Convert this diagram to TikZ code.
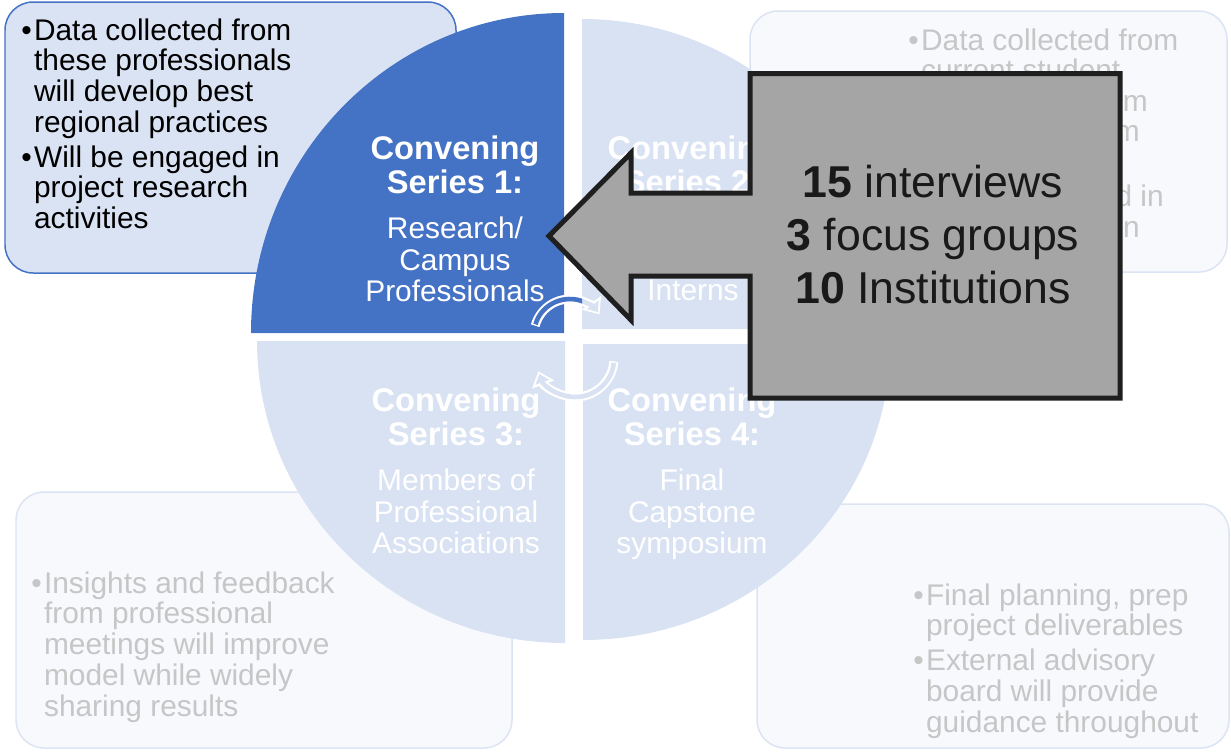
\documentclass[tikz,border=0pt]{standalone}
\usepackage{fontspec}
\setmainfont{Liberation Sans}
\usetikzlibrary{arrows.meta}

\definecolor{qdark}{HTML}{4472C4}
\definecolor{qlight}{HTML}{D9E2F3}
\definecolor{boxblue}{HTML}{DAE3F3}
\definecolor{fadefill}{HTML}{F7F9FD}
\definecolor{fadeline}{HTML}{DCE4F3}
\definecolor{fadegray}{HTML}{C6C6C6}
\definecolor{callgray}{HTML}{A5A5A5}
\definecolor{callline}{HTML}{1F1F1F}

\newcommand{\qhead}{\fontsize{18.6}{17.9}\selectfont\bfseries}

\begin{document}
\begin{tikzpicture}[x=0.02cm, y=0.02cm,
  listtext/.style={anchor=base west, inner sep=0pt, font=\fontsize{17}{17.35}\selectfont},
  fadetext/.style={listtext, text=fadegray},
  qtext/.style={anchor=base, inner sep=0pt, text=white, font=\fontsize{17}{17.9}\selectfont},
  fadebox/.style={draw=fadeline, fill=fadefill, line width=0.85pt, rounded corners=16pt},
  cyclerim/.style={white, line width=5.1pt, -{Triangle[width=13pt,length=8pt]}},
  cyclefill/.style={line width=2.6pt, shorten >=1.6pt, shorten <=0.8pt, -{Triangle[width=8pt,length=5pt]}}]
\useasboundingbox (0,0) rectangle (1231,-751);

% side boxes
\draw[draw=qdark, fill=boxblue, line width=0.85pt, rounded corners=16pt] (5,-2) rectangle (456,-273);
\draw[fadebox] (750,-11) rectangle (1227,-272);
\draw[fadebox] (16,-492) rectangle (512,-748);
\draw[fadebox] (757,-504) rectangle (1229,-748);

\node[listtext] (tltext) at (21,-40) {\begin{tabular}[t]{@{}l@{\hspace{1.3pt}}l@{}}
\textbullet & Data collected from\\
 & these professionals\\
 & will develop best\\
 & regional practices\\[2.3pt]
\textbullet & Will be engaged in\\
 & project research\\
 & activities
\end{tabular}};

\node[fadetext] (trtext) at (908,-50) {\begin{tabular}[t]{@{}l@{\hspace{1.3pt}}l@{}}
\textbullet & Data collected from\\
 & current student
\end{tabular}};
\node[fadetext, anchor=base east] (trend1) at (1148,-111) {rm};
\node[fadetext, anchor=base east] (trend2) at (1140,-141.5) {m};
\node[fadetext, anchor=base east] (trend3) at (1164,-206.5) {d in};
\node[fadetext, anchor=base east] (trend4) at (1140,-237) {n};

\node[fadetext] (bltext) at (31,-593) {\begin{tabular}[t]{@{}l@{\hspace{1.3pt}}l@{}}
\textbullet & Insights and feedback\\
 & from professional\\
 & meetings will improve\\
 & model while widely\\
 & sharing results
\end{tabular}};

\node[fadetext] (brtext) at (913,-605) {\begin{tabular}[t]{@{}l@{\hspace{1.3pt}}l@{}}
\textbullet & Final planning, prep\\
 & project deliverables\\[2.3pt]
\textbullet & External advisory\\
 & board will provide\\
 & guidance throughout
\end{tabular}};

% the four quarters
\fill[qdark] (564,-333) -- (251,-333) arc[start angle=180, end angle=90, x radius=313, y radius=320] -- cycle;
\fill[qlight] (582,-329) -- (582,-19) arc[start angle=90, end angle=0, x radius=308, y radius=310] -- cycle;
\fill[qlight] (565,-341) -- (565,-643) arc[start angle=270, end angle=180, x radius=308, y radius=302] -- cycle;
\fill[qlight] (583,-344) -- (890,-344) arc[start angle=0, end angle=-90, x radius=307, y radius=296] -- cycle;

\node[qtext] (q1) at (455,-159) {\begin{tabular}[t]{@{}c@{}}
{\qhead Convening}\\[0.85pt]
{\qhead Series 1:}\\[7.7pt]
Research/\\ Campus\\ Professionals
\end{tabular}};
\node[qtext] (q2) at (692,-159) {\begin{tabular}[t]{@{}c@{}}
{\qhead Convening}\\[0.85pt]
{\qhead Series 2:}
\end{tabular}};
\node[qtext] (q2body) at (693,-300) {Interns};
\node[qtext] (q3) at (456,-411) {\begin{tabular}[t]{@{}c@{}}
{\qhead Convening}\\[0.85pt]
{\qhead Series 3:}\\[7.7pt]
Members of\\ Professional\\ Associations
\end{tabular}};
\node[qtext] (q4) at (692,-411) {\begin{tabular}[t]{@{}c@{}}
{\qhead Convening}\\[0.85pt]
{\qhead Series 4:}\\[7.7pt]
Final\\ Capstone\\ symposium
\end{tabular}};

% cycle arrows
\draw[cyclerim] (535.2,-325.7) arc[start angle=165, end angle=35, radius=36];
\draw[cyclefill, qlight] (535.2,-325.7) arc[start angle=165, end angle=35, radius=36];
\begin{scope}
\clip (500,-280) rectangle (582,-345);
\draw[line width=2.6pt, qdark, shorten <=0.8pt] (535.2,-325.7) arc[start angle=165, end angle=35, radius=36];
\end{scope}
\draw[cyclerim] (613.9,-361.4) arc[start angle=-5, end angle=-160, radius=39];
\draw[cyclefill, qlight] (613.9,-361.4) arc[start angle=-5, end angle=-160, radius=39];

% callout
\draw[fill=callgray, draw=callline, line width=2.85pt, line join=miter]
  (549,-236) -- (631,-153) -- (631,-193) -- (750,-193) -- (750,-73.5) -- (1120,-73.5)
  -- (1120,-398) -- (750,-398) -- (750,-276) -- (631,-276) -- (631,-320) -- cycle;
\node[anchor=base, inner sep=0pt, text=black!90, font=\fontsize{25.4}{30.2}\selectfont] (stats) at (933,-197) {\begin{tabular}[t]{@{}c@{}}
\textbf{15} interviews\\
\textbf{3} focus groups\\
\textbf{10} Institutions
\end{tabular}};
\end{tikzpicture}
\end{document}
